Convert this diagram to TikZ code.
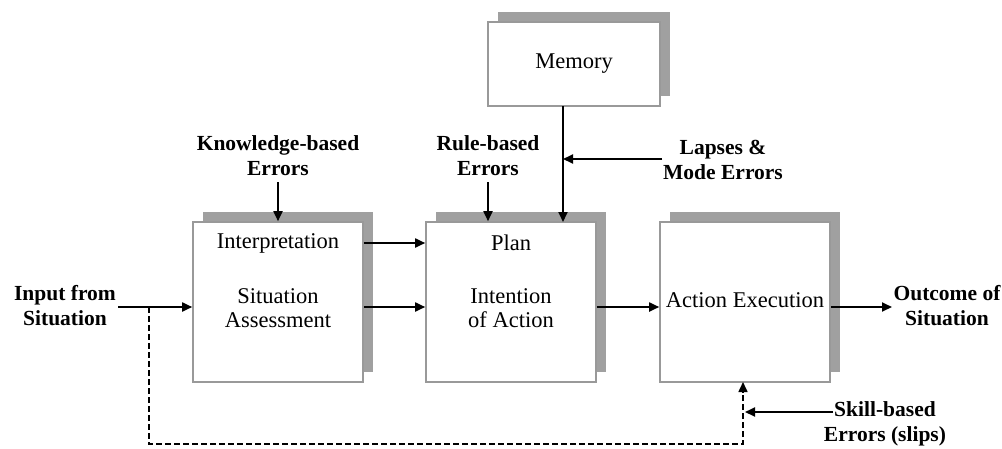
\documentclass[tikz,border=0pt]{standalone}
\usepackage{fontspec}
\setmainfont{Liberation Serif}
\usetikzlibrary{arrows.meta,shadows}
\definecolor{boxborder}{HTML}{999999}
\definecolor{shadowgray}{HTML}{A0A0A0}
\begin{document}
\begin{tikzpicture}[x=1pt,y=-1pt,
  blk/.style={draw=boxborder,line width=1.6pt,fill=white,minimum width=170pt,minimum height=160pt,inner sep=0pt,
    general shadow={fill=shadowgray,shadow xshift=10pt,shadow yshift=10pt}},
  txt/.style={font=\fontsize{22.5}{24}\selectfont,align=center,inner sep=0pt},
  lbl/.style={font=\fontsize{21.5}{25}\selectfont\bfseries,align=center,inner sep=0pt},
  arr/.style={line width=1.8pt,-{Triangle[length=10pt,width=9pt]}},
  ln/.style={line width=1.6pt}]
\useasboundingbox (0,0) rectangle (1002,448);
% boxes
\node[blk] (A) at (278,302) {};
\node[blk] (B) at (511,302) {};
\node[blk] (C) at (745,302) {};
\node[blk,minimum width=172pt,minimum height=84pt] (M) at (574,64) {};
% box texts
\node[txt] (Aint) at (278,243) {Interpretation};
\node[txt] (Asit) at (278,308) {Situation\\Assessment};
\node[txt] (Bplan) at (511,243) {Plan};
\node[txt] (Bint) at (511,308) {Intention\\of Action};
\node[txt] (Cact) at (745,300) {Action Execution};
\node[txt] (Mtxt) at (574,64) {Memory};
% outer labels
\node[lbl] (KB) at (278,156) {Knowledge-based\\Errors};
\node[lbl] (RB) at (488,156) {Rule-based\\Errors};
\node[lbl] (LP) at (723,160) {Lapses \&\\Mode Errors};
\node[lbl] (IN) at (65,306) {Input from\\Situation};
\node[lbl] (OUT) at (947,306) {Outcome of\\Situation};
\node[lbl] (SK) at (885,424) {Skill-based\\Errors (slips)};
% coordinates
\coordinate (kbA) at (278,182);
\coordinate (rbA) at (488,182);
\coordinate (mTop) at (563,106);
\coordinate (mBot) at (563,222);
\coordinate (mMid) at (563,159);
\coordinate (lpS) at (662,159);
\coordinate (inS) at (118,307);
\coordinate (dStart) at (149,307);
\coordinate (dC1) at (149,444);
\coordinate (dC2) at (743,444);
\coordinate (dEnd) at (743,382);
\coordinate (skS) at (833,412);
\coordinate (skE) at (745,412);
% connectors
\draw[arr] (kbA) -- (A.north);
\draw[arr] (rbA) -- (rbA |- B.north);
\draw[arr] (mTop) -- (mBot);
\draw[arr] (lpS) -- (mMid);
\draw[arr] (A.east |- Aint) -- (B.west |- Aint);
\draw[arr] (A.east |- 0,307) -- (B.west |- 0,307);
\draw[arr] (B.east |- 0,307) -- (C.west |- 0,307);
\draw[arr] (C.east |- 0,307) -- (892,307);
\draw[arr] (inS) -- (A.west |- inS);
\draw[ln,dashed,dash pattern=on 6pt off 3pt,-{Triangle[length=10pt,width=9pt]}] (dStart) -- (dC1) -- (dC2) -- (dEnd);
\draw[arr] (skS) -- (skE);
\end{tikzpicture}
\end{document}
